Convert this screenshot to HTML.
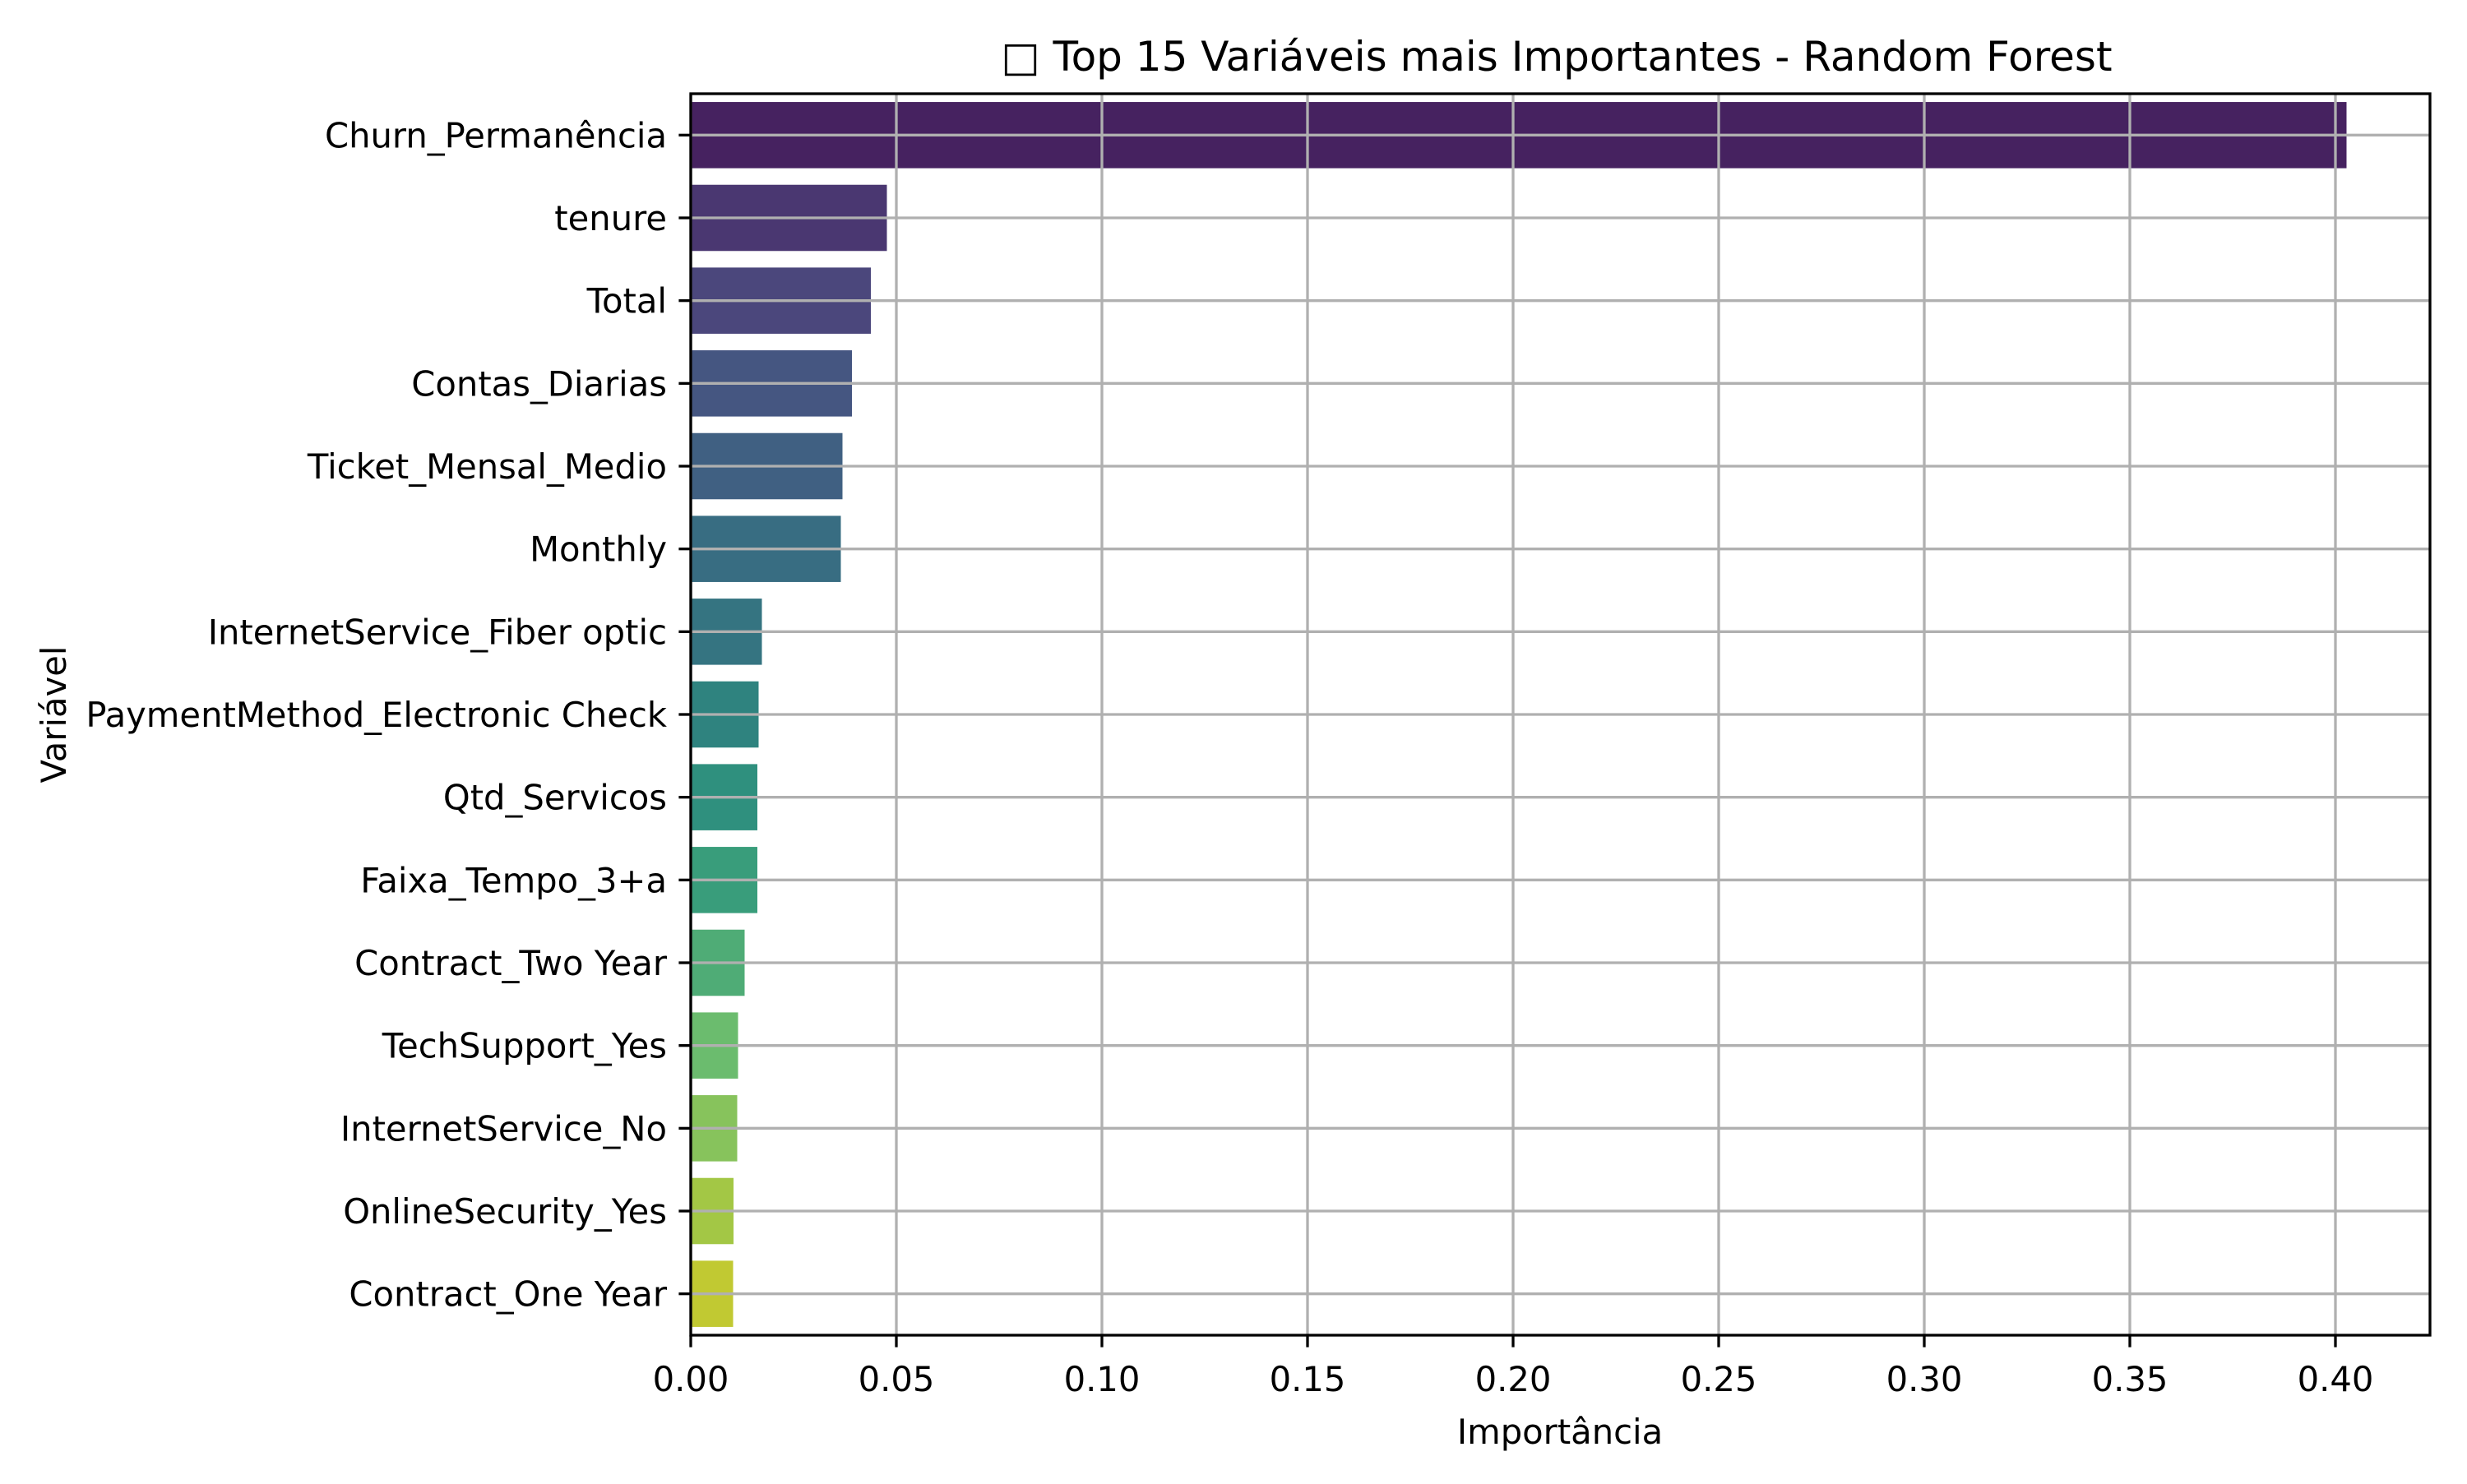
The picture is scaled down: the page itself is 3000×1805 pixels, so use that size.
<!DOCTYPE html>
<html><head><meta charset="utf-8"><style>
html,body{margin:0;padding:0;background:#fff;}
svg text{font-family:"DejaVu Sans","Liberation Sans",sans-serif;fill:#000;}
</style></head><body>
<svg id="chart" width="3000" height="1800" xmlns="http://www.w3.org/2000/svg">
<rect width="3000" height="1800" fill="#fff"/>
<g id="bars"></g>
<g id="grid"></g>
<g id="axes"></g>
<text x="1893" y="86" font-size="50" text-anchor="middle">□ Top 15 Variáveis mais Importantes - Random Forest</text>
<text x="1897" y="1756" font-size="41.7" text-anchor="middle">Importância</text>
<text transform="translate(80,869) rotate(-90)" font-size="41.7" text-anchor="middle">Variável</text>
</svg>
<script>
const categories = ["Churn_Permanência","tenure","Total","Contas_Diarias","Ticket_Mensal_Medio","Monthly","InternetService_Fiber optic","PaymentMethod_Electronic Check","Qtd_Servicos","Faixa_Tempo_3+a","Contract_Two Year","TechSupport_Yes","InternetService_No","OnlineSecurity_Yes","Contract_One Year"];
const importance = [0.4027,0.0477,0.0438,0.0392,0.0369,0.0365,0.0173,0.0165,0.0162,0.0162,0.0131,0.0115,0.0113,0.0104,0.0103];
const xTicks = [0,0.05,0.10,0.15,0.20,0.25,0.30,0.35,0.40];
const xTickLabels = ["0.00","0.05","0.10","0.15","0.20","0.25","0.30","0.35","0.40"];
const palette = ["#48186a","#472d7b","#433e85","#3b528b","#355f8d","#2c728e","#287c8e","#21918c","#1fa088","#28ae80","#3fbc73","#5ec962","#84d44b","#addc30","#d8e219"];

const L=840,R=2955,T=114,B=1624,XMAX=0.423;
const NS="http://www.w3.org/2000/svg";
const xs=v=>L+v/XMAX*(R-L);
const step=(B-T)/categories.length;
const yc=i=>T+step*(i+0.5);
function mk(tag,attrs,parent){const e=document.createElementNS(NS,tag);for(const k in attrs)e.setAttribute(k,attrs[k]);parent.appendChild(e);return e;}
function desat(hex){let r=parseInt(hex.substr(1,2),16)/255,g=parseInt(hex.substr(3,2),16)/255,b=parseInt(hex.substr(5,2),16)/255;
 const mx=Math.max(r,g,b),mn=Math.min(r,g,b);let h=0,s=0,l=(mx+mn)/2;const d=mx-mn;
 if(d>0){s=l>0.5?d/(2-mx-mn):d/(mx+mn);if(mx===r)h=((g-b)/d+(g<b?6:0));else if(mx===g)h=(b-r)/d+2;else h=(r-g)/d+4;h/=6;}
 s*=0.75;const q=l<0.5?l*(1+s):l+s-l*s,p=2*l-q;
 const f=t=>{if(t<0)t+=1;if(t>1)t-=1;if(t<1/6)return p+(q-p)*6*t;if(t<1/2)return q;if(t<2/3)return p+(q-p)*(2/3-t)*6;return p;};
 const c=[f(h+1/3),f(h),f(h-1/3)].map(v=>Math.round(v*255));return `rgb(${c.join(',')})`;}
const grid=document.getElementById('grid'),bars=document.getElementById('bars'),axes=document.getElementById('axes');
categories.forEach((c,i)=>{
 const bh=step*0.8;
 const r=mk('rect',{x:L,y:yc(i)-bh/2,width:xs(importance[i])-L,height:bh,fill:desat(palette[i])},bars);
 
 
 const g=mk('line',{x1:L,x2:R,y1:yc(i),y2:yc(i),stroke:'#b0b0b0','stroke-width':3.3},grid);
 
 
 mk('line',{x1:L-14.6,x2:L,y1:yc(i),y2:yc(i),stroke:'#000','stroke-width':3.3},axes);
 const t=mk('text',{x:L-29,y:yc(i)+15,'font-size':41.7,'text-anchor':'end'},axes);
 t.textContent=c;
 
 
});
xTicks.forEach((v,i)=>{
 const x=xs(v);
 const g=mk('line',{x1:x,x2:x,y1:T,y2:B,stroke:'#b0b0b0','stroke-width':3.3},grid);
 
 
 mk('line',{x1:x,x2:x,y1:B,y2:B+14.6,stroke:'#000','stroke-width':3.3},axes);
 const t=mk('text',{x:x,y:B+68,'font-size':41.7,'text-anchor':'middle'},axes);
 t.textContent=xTickLabels[i];
 
 
});
const f=mk('rect',{x:L,y:T,width:R-L,height:B-T,fill:'none',stroke:'#000','stroke-width':3.3},axes);


</script>
</body></html>
